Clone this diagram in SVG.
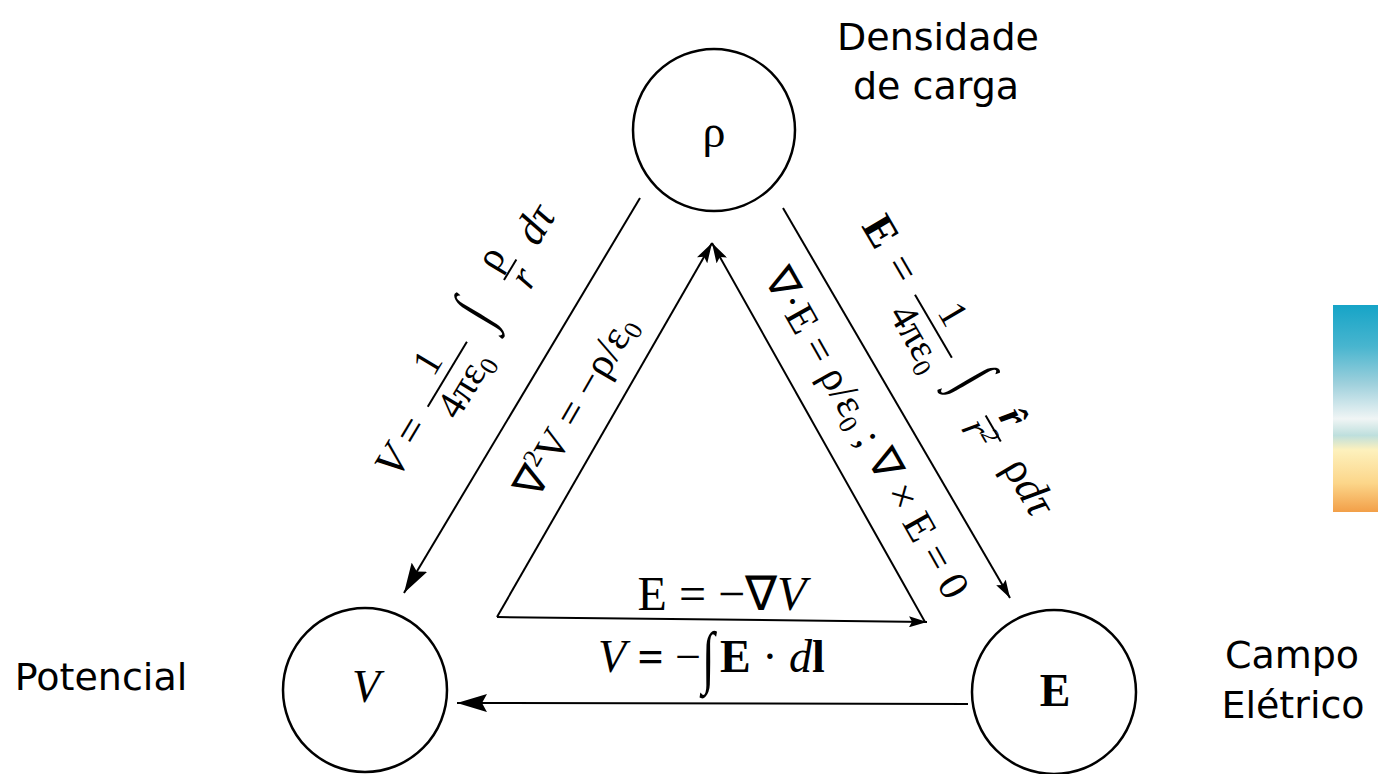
<svg xmlns="http://www.w3.org/2000/svg" width="1378" height="774" viewBox="0 0 1378 774">
<style>
.m{font-family:"Liberation Serif","Times New Roman",serif;fill:#000}
.i{font-style:italic}
.b{font-weight:bold}
.lbl{font-family:"DejaVu Sans","Liberation Sans",sans-serif;font-size:38px;fill:#000;text-anchor:middle}
.c{text-anchor:middle}
.node{fill:none;stroke:#000;stroke-width:2.5}
.ln{stroke:#000;stroke-width:2;fill:none}
.bar{stroke:#000;stroke-width:2}
</style>
<defs>
<marker id="big" viewBox="0 0 30 18" refX="30" refY="9" markerWidth="30" markerHeight="18" markerUnits="userSpaceOnUse" orient="auto"><path d="M0,0 L30,9 L0,18 L5,9 z" fill="#000"/></marker>
<marker id="md" viewBox="0 0 20 12" refX="20" refY="6" markerWidth="20" markerHeight="12" markerUnits="userSpaceOnUse" orient="auto"><path d="M0,0 L20,6 L0,12 L4,6 z" fill="#000"/></marker>
<marker id="sm" viewBox="0 0 18 11" refX="18" refY="5.5" markerWidth="18" markerHeight="11" markerUnits="userSpaceOnUse" orient="auto"><path d="M0,0 L18,5.5 L0,11 L3,5.5 z" fill="#000"/></marker>
<linearGradient id="sky" x1="0" y1="0" x2="0" y2="1">
<stop offset="0" stop-color="#16a4c7"/>
<stop offset="0.2" stop-color="#48b5cf"/>
<stop offset="0.38" stop-color="#9ed0dc"/>
<stop offset="0.55" stop-color="#f0f5f5"/>
<stop offset="0.63" stop-color="#bedfdd"/>
<stop offset="0.7" stop-color="#fdf1bd"/>
<stop offset="0.86" stop-color="#fcd68a"/>
<stop offset="1" stop-color="#f29f48"/>
</linearGradient>
</defs>
<rect x="1333" y="305" width="45" height="207" fill="url(#sky)"/>
<g id="connectors">
<line class="ln" x1="640" y1="198" x2="404" y2="593" marker-end="url(#big)"/>
<line class="ln" x1="783" y1="208" x2="1010" y2="598" marker-end="url(#sm)"/>
<line class="ln" x1="497" y1="617" x2="712" y2="243" marker-end="url(#md)"/>
<line class="ln" x1="925" y1="622" x2="712" y2="243" marker-end="url(#md)"/>
<line class="ln" x1="497" y1="617" x2="927" y2="622" stroke-width="2.5" marker-end="url(#sm)"/>
<line class="ln" x1="968" y1="704" x2="457" y2="703" stroke-width="2.5" marker-end="url(#big)"/>
</g>
<g id="node-rho">
<circle class="node" cx="714" cy="130" r="81"/>
<text class="m c" x="714" y="147" font-size="46">ρ</text>
<text class="lbl" x="938" y="50">Densidade</text>
<text class="lbl" x="936" y="99">de carga</text>
</g>
<g id="node-V">
<circle class="node" cx="365" cy="690" r="82"/>
<text class="m i c" x="366" y="702" font-size="46">V</text>
<text class="lbl" x="101" y="690">Potencial</text>
</g>
<g id="node-E">
<circle class="node" cx="1054" cy="692" r="82"/>
<text class="m b c" x="1055" y="706" font-size="46">E</text>
<text class="lbl" x="1292" y="668">Campo</text>
<text class="lbl" x="1293" y="718">Elétrico</text>
</g>
<g id="label-V-from-rho" transform="translate(390,460) rotate(-59)">
<text class="m i c" x="0" y="17" font-size="44">V</text>
<text class="m c" x="36" y="17" font-size="44">=</text>
<line class="bar" x1="65" y1="5" x2="141" y2="5"/>
<text class="m c" x="103" y="-5" font-size="40">1</text>
<text class="m c" x="103" y="38" font-size="40">4πε<tspan font-size="26" dy="7">0</tspan></text>
<text class="m c" transform="translate(170,17) scale(1,1.5)" font-size="44">∫</text>
<line class="bar" x1="213" y1="5" x2="237" y2="5"/>
<text class="m c" x="225" y="-5" font-size="40">ρ</text>
<text class="m i c" x="225" y="33" font-size="40">r</text>
<text class="m i c" x="277" y="17" font-size="44">dτ</text>
</g>
<g id="label-laplace" transform="translate(575,406) rotate(-60)">
<text class="m c" x="0" y="14" font-size="42">∇<tspan font-size="26" dy="-16">2</tspan><tspan dy="16">V = −ρ/ε</tspan><tspan font-size="26" dy="7">0</tspan></text>
</g>
<g id="label-gauss" transform="translate(867,433) rotate(60.5)">
<text class="m c" x="0" y="14" font-size="42">∇·E = ρ/ε<tspan font-size="26" dy="7">0</tspan><tspan dy="-7"> ; ∇ × E = 0</tspan></text>
</g>
<g id="label-E-from-rho" transform="translate(883,230) rotate(59.7)">
<text class="m b c" x="0" y="17" font-size="44">E</text>
<text class="m c" x="43" y="17" font-size="44">=</text>
<line class="bar" x1="72" y1="5" x2="145" y2="5"/>
<text class="m c" x="108" y="-5" font-size="40">1</text>
<text class="m c" x="110" y="38" font-size="40">4πε<tspan font-size="26" dy="7">0</tspan></text>
<text class="m c" transform="translate(174,17) scale(1,1.5)" font-size="44">∫</text>
<line class="bar" x1="212" y1="5" x2="242" y2="5"/>
<text class="m b i c" x="227" y="-5" font-size="40">r̂</text>
<text class="m i c" x="224" y="33" font-size="40">r<tspan font-size="24" dy="-14">2</tspan></text>
<text class="m c" x="295" y="17" font-size="44">ρ<tspan class="i">dτ</tspan></text>
</g>
<g id="label-gradient">
<text class="m c" x="722" y="610" font-size="48">E = −∇<tspan class="i">V</tspan></text>
</g>
<g id="label-line-integral">
<text class="m" x="598" y="672" font-size="46"><tspan class="i">V</tspan> <tspan class="b">=</tspan> −</text>
<text class="m" transform="translate(702,680) scale(1,1.5)" font-size="46">∫</text>
<text class="m" x="720" y="672" font-size="46"><tspan class="b">E</tspan> · <tspan class="i">d</tspan><tspan class="b">l</tspan></text>
</g>
</svg>
